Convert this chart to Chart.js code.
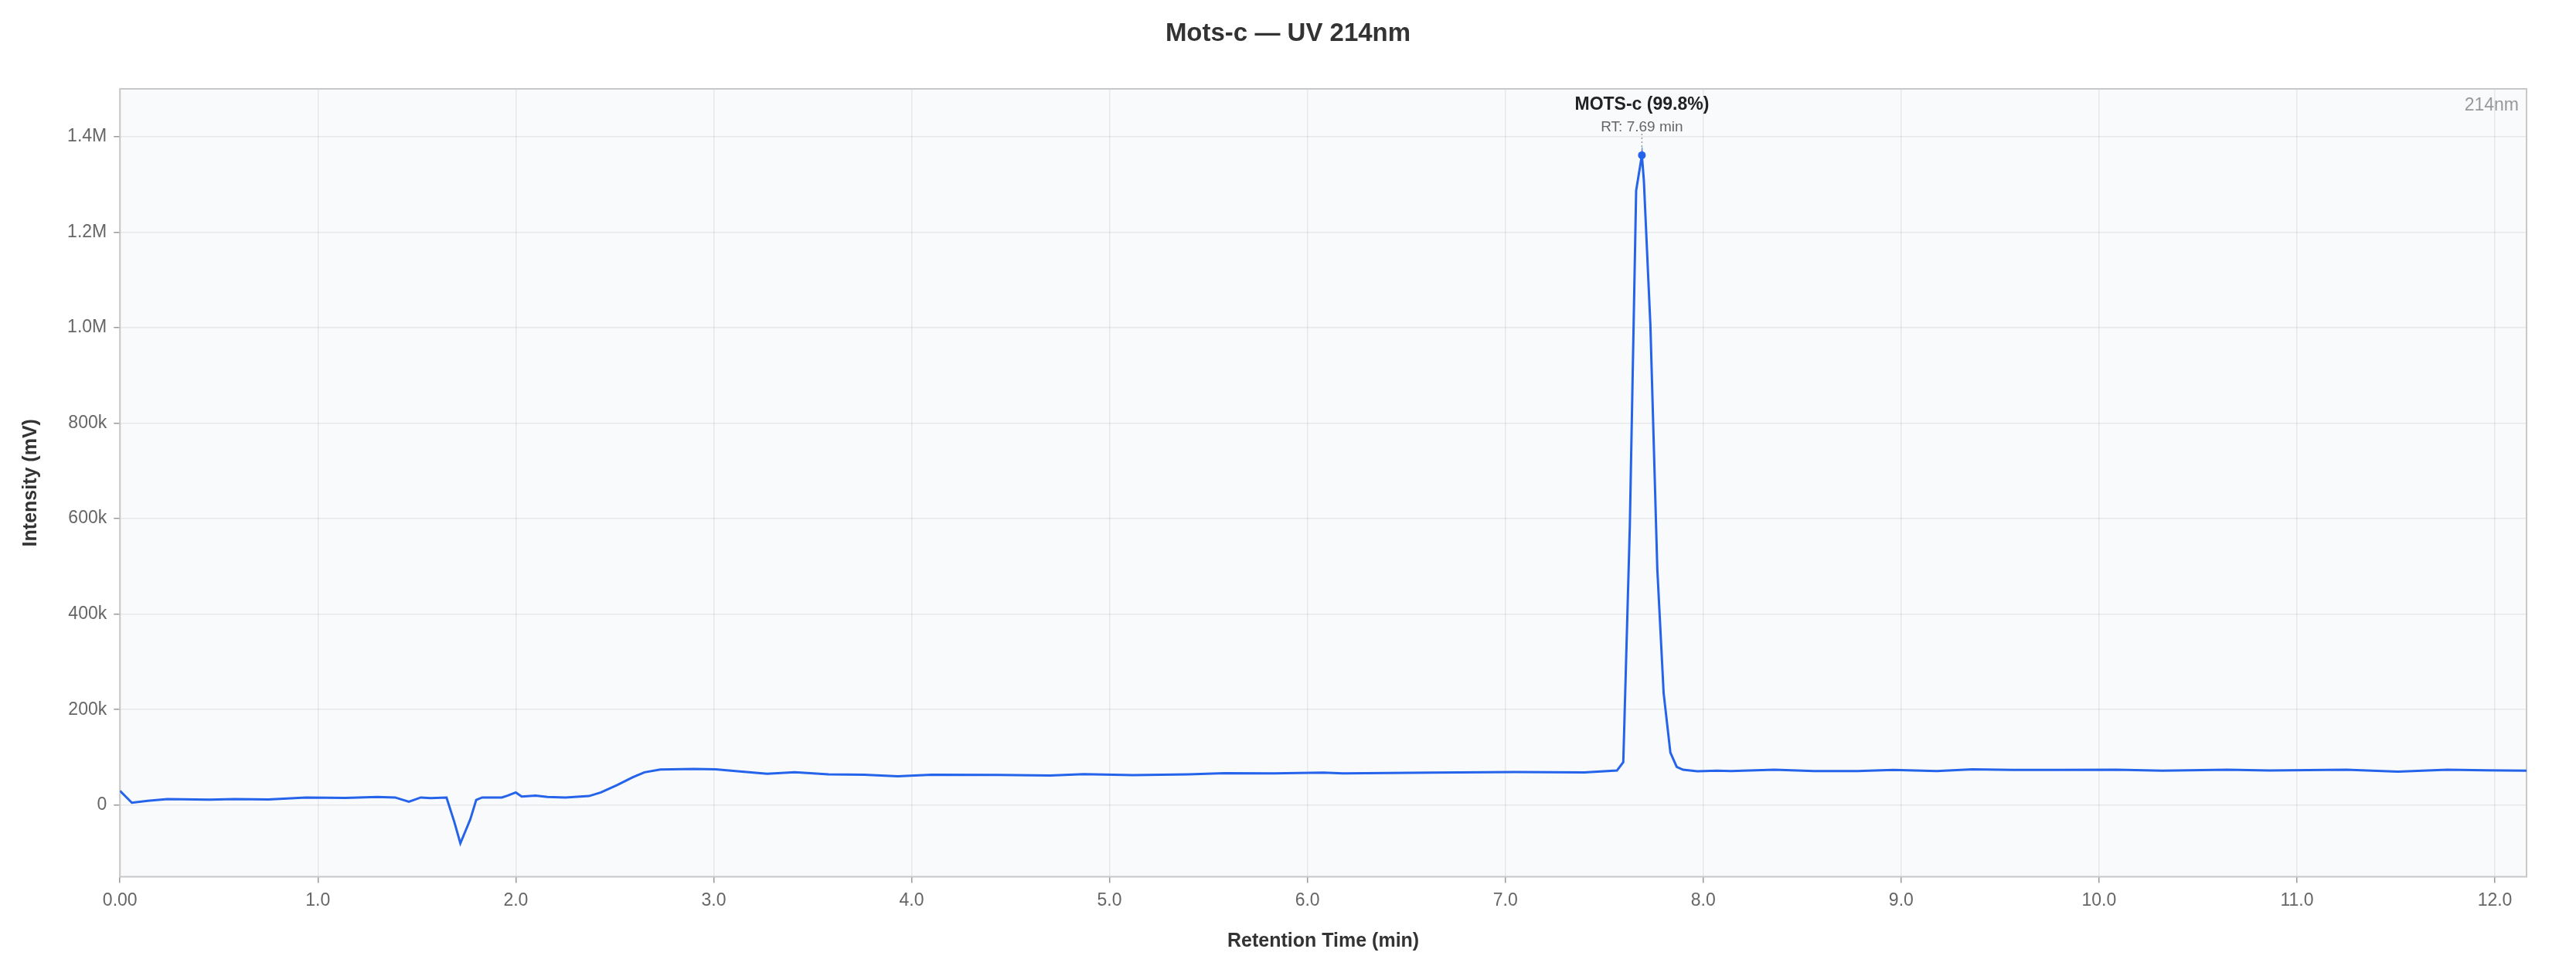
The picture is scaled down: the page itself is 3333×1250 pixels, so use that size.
<!DOCTYPE html>
<html>
<head>
<meta charset="utf-8">
<script src="https://cdn.jsdelivr.net/npm/chart.js@4.4.1/dist/chart.umd.min.js"></script>
<style>
  html, body { margin: 0; padding: 0; background: #ffffff; }
  #wrap { width: 3333px; height: 1250px; position: relative; }
</style>
</head>
<body>
<div id="wrap"><canvas id="c"></canvas></div>
<script>
// ---- data ----
const retentionTimes = [
  0.00, 0.06, 0.14, 0.24, 0.45, 0.58, 0.75, 0.94, 1.14, 1.30, 1.39, 1.46, 1.52, 1.57, 1.65,
  1.69, 1.72, 1.77, 1.80, 1.83, 1.93, 1.96, 2.00, 2.03, 2.10, 2.16, 2.25, 2.37, 2.43, 2.51,
  2.59, 2.65, 2.73, 2.90, 3.01, 3.11, 3.27, 3.41, 3.58, 3.76, 3.93, 4.10, 4.44, 4.70, 4.87,
  5.12, 5.40, 5.58, 5.83, 6.08, 6.18, 6.63, 7.05, 7.40, 7.564, 7.596, 7.629, 7.661, 7.69,
  7.70, 7.733, 7.768, 7.80, 7.834, 7.866, 7.898, 7.97, 8.07, 8.14, 8.36, 8.56, 8.78, 8.96,
  9.18, 9.36, 9.56, 9.80, 10.09, 10.32, 10.65, 10.86, 11.25, 11.51, 11.76, 11.95, 12.16
];
const intensities = [
  30000, 5000, 9000, 12500, 11500, 12500, 12000, 16000, 15000, 17000, 16000, 7000, 16000, 14500, 16000,
  -36000, -80000, -30000, 11000, 16000, 16000, 20000, 26500, 18000, 20000, 17000, 16000, 19000, 26500, 41700,
  58000, 68700, 74700, 75700, 75000, 71400, 65500, 68700, 64400, 63800, 60600, 63800, 63300, 62200, 65000,
  62800, 64400, 67000, 66500, 68200, 66500, 68200, 69200, 68400, 72400, 90000, 583000, 1287000, 1361000,
  1308000, 1005000, 494000, 234000, 110000, 80000, 74000, 71000, 72000, 71400, 74000, 71400, 71400, 73600,
  71400, 75000, 73600, 73600, 74000, 72000, 74000, 72500, 74000, 70300, 74000, 73000, 72000
];
const peakTimes = [7.69];
const peakValues = [1361000];
const peakNames = ['MOTS-c (99.8%)'];
const peakRTLabels = ['RT: 7.69 min'];
const xTickValues = [0, 1, 2, 3, 4, 5, 6, 7, 8, 9, 10, 11, 12];
const xTickLabels = ['0.00', '1.0', '2.0', '3.0', '4.0', '5.0', '6.0', '7.0', '8.0', '9.0', '10.0', '11.0', '12.0'];
const yTickValues = [0, 200000, 400000, 600000, 800000, 1000000, 1200000, 1400000];
const yTickLabels = ['0', '200k', '400k', '600k', '800k', '1.0M', '1.2M', '1.4M'];
const chartTitle = 'Mots-c — UV 214nm';
const xTitle = 'Retention Time (min)';
const yTitle = 'Intensity (mV)';
const wavelengthTag = '214nm';

const FONT = "'Liberation Sans', Arial, Helvetica, sans-serif";
const LINE_COLOR = '#2563eb';

const series = retentionTimes.map((t, i) => ({ x: t, y: intensities[i] }));
const peaks = peakTimes.map((t, i) => ({ x: t, y: peakValues[i] }));

const plotFrame = {
  id: 'plotFrame',
  beforeDraw(chart) {
    const { ctx, chartArea: a } = chart;
    ctx.save();
    ctx.fillStyle = '#f8fafc';
    ctx.fillRect(a.left, a.top, a.right - a.left, a.bottom - a.top);
    ctx.textAlign = 'center';
    ctx.textBaseline = 'middle';
    ctx.fillStyle = '#333333';
    ctx.font = 'bold 33px ' + FONT;
    ctx.fillText(chartTitle, chart.width / 2, 44);
    ctx.restore();
  },
  beforeDatasetsDraw(chart) {
    const { ctx, chartArea: a } = chart;
    ctx.save();
    ctx.strokeStyle = '#c8c8c8';
    ctx.lineWidth = 2;
    ctx.strokeRect(a.left, a.top, a.right - a.left, a.bottom - a.top);
    ctx.restore();
  },
  afterDatasetsDraw(chart) {
    const { ctx, chartArea: a, scales } = chart;
    ctx.save();
    peaks.forEach((p, i) => {
      const px = scales.x.getPixelForValue(p.x);
      const py = scales.y.getPixelForValue(p.y);
      ctx.strokeStyle = '#9a9a9a';
      ctx.lineWidth = 1.5;
      ctx.setLineDash([2, 3]);
      ctx.beginPath();
      ctx.moveTo(px, py - 6);
      ctx.lineTo(px, a.top + 58);
      ctx.stroke();
      ctx.setLineDash([]);
      ctx.textAlign = 'center';
      ctx.textBaseline = 'middle';
      ctx.fillStyle = '#222222';
      ctx.font = 'bold 23px ' + FONT;
      ctx.fillText(peakNames[i], px, a.top + 21);
      ctx.fillStyle = '#666666';
      ctx.font = '19px ' + FONT;
      ctx.fillText(peakRTLabels[i], px, a.top + 50);
    });
    ctx.textAlign = 'right';
    ctx.textBaseline = 'middle';
    ctx.fillStyle = '#999999';
    ctx.font = '23px ' + FONT;
    ctx.fillText(wavelengthTag, a.right - 10, a.top + 22);
    ctx.restore();
  }
};

new Chart(document.getElementById('c'), {
  type: 'line',
  data: {
    datasets: [
      {
        data: series,
        borderColor: LINE_COLOR,
        borderWidth: 3,
        pointRadius: 0,
        tension: 0,
        fill: false
      },
      {
        data: peaks,
        showLine: false,
        pointRadius: 5,
        pointBackgroundColor: LINE_COLOR,
        pointBorderColor: LINE_COLOR,
        pointBorderWidth: 0
      }
    ]
  },
  options: {
    responsive: true,
    maintainAspectRatio: false,
    devicePixelRatio: 1,
    animation: false,
    events: [],
    layout: { padding: { top: 115, left: 10, right: 64, bottom: 5 } },
    plugins: {
      legend: { display: false },
      tooltip: { enabled: false },
      title: { display: false }
    },
    scales: {
      x: {
        type: 'linear',
        min: retentionTimes[0],
        max: retentionTimes[retentionTimes.length - 1],
        afterBuildTicks: (axis) => { axis.ticks = xTickValues.map(v => ({ value: v })); },
        ticks: {
          color: '#666666',
          font: { family: FONT, size: 23 },
          padding: 9,
          maxRotation: 0,
          autoSkip: false,
          callback: (v, i) => xTickLabels[i]
        },
        grid: {
          color: 'rgba(0,0,0,0.07)',
          lineWidth: 1.5,
          tickColor: '#9a9a9a',
          tickLength: 8,
          tickWidth: 1.5
        },
        border: { display: false },
        title: {
          display: true,
          text: xTitle,
          color: '#333333',
          font: { family: FONT, size: 25, weight: 'bold' },
          padding: { top: 15.4, bottom: 11.5 }
        }
      },
      y: {
        type: 'linear',
        min: -150000,
        max: 1500000,
        afterBuildTicks: (axis) => { axis.ticks = yTickValues.map(v => ({ value: v })); },
        ticks: {
          color: '#666666',
          font: { family: FONT, size: 23 },
          padding: 9,
          autoSkip: false,
          callback: (v, i) => yTickLabels[i]
        },
        grid: {
          color: 'rgba(0,0,0,0.07)',
          lineWidth: 1.5,
          tickColor: '#9a9a9a',
          tickLength: 8,
          tickWidth: 1.5
        },
        border: { display: false },
        title: {
          display: true,
          text: yTitle,
          color: '#333333',
          font: { family: FONT, size: 25, weight: 'bold' },
          padding: { top: 15, bottom: 23.1 }
        }
      }
    }
  },
  plugins: [plotFrame]
});
</script>
</body>
</html>
